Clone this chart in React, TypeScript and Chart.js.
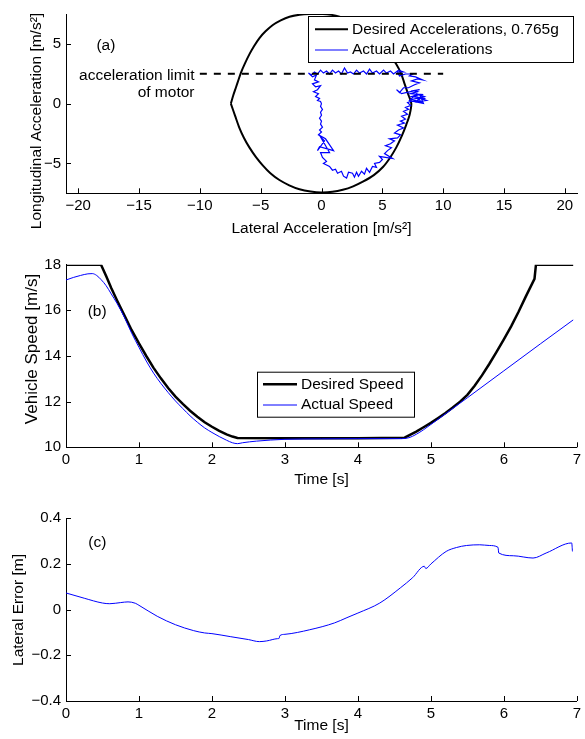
import { useEffect, useRef } from 'react';
import { Chart, registerables } from 'chart.js';

Chart.register(...registerables);

const FONT = "'Liberation Sans', Arial, Helvetica, sans-serif";
const TICK_SIZE = 15;
const LABEL_SIZE = 15.5;
const BLUE = '#0000ff';

// ---------- Panel (a): friction circle ----------
const desiredAccLat = [-7.45, -7.25, -7.02, -6.82, -6.61, -6.3, -5.93, -5.55, -5.1, -4.6, -4.0, -3.35, -2.63, -1.8, -1.0, 0.1, 0.8, 1.48, 2.2, 3.3, 4.4, 5.4, 6.15, 6.55, 6.83, 7.1, 7.38, 7.25, 6.97, 6.6, 6.15, 5.65, 5.05, 4.3, 3.4, 2.6, 1.75, 0.9, 0, -0.9, -1.81, -2.65, -3.46, -4.2, -4.83, -5.4, -5.93, -6.38, -6.75, -7.1, -7.45];
const desiredAccLon = [0, 0.7, 1.39, 2.0, 2.62, 3.35, 4.12, 4.8, 5.49, 6.05, 6.58, 6.97, 7.27, 7.44, 7.5, 7.5, 7.43, 7.27, 7.0, 6.4, 5.5, 4.4, 3.3, 2.5, 1.66, 0.85, 0.02, -0.9, -1.75, -2.7, -3.66, -4.5, -5.3, -5.98, -6.53, -6.92, -7.21, -7.38, -7.43, -7.35, -7.16, -6.83, -6.39, -5.82, -5.16, -4.45, -3.66, -2.85, -2.02, -1.02, 0];
const actualAccLat = [0, -0.08, 0.08, -0.08, 0, -0.16, 0, -0.08, 0.08, -0.16,
  0, -0.25, 0.33, 0.99, -0.16, -0.33, 0.25, -0.08, 0.66, -0.08,
  0.08, 0.41, 0.16, 0.66, 0.90, 1.15, 1.32, 1.64, 1.81, 2.06,
  2.22, 2.55, 2.71, 2.88, 3.04, 3.29, 3.53, 3.70, 3.95, 4.19,
  4.52, 4.36, 4.77, 5.01, 4.77, 5.26, 5.84, 5.18, 5.43, 5.75,
  5.26, 5.67, 6.00, 5.59, 6.25, 6.49, 6.00, 6.33, 6.74, 6.25,
  6.82, 6.49, 6.90, 6.58, 7.07, 6.74, 7.15, 6.90, 7.32, 7.07,
  7.65, 8.22, 7.89, 8.55, 7.40, 8.06, 8.38, 7.23, 7.81, 8.47,
  7.48, 7.97, 8.63, 7.56, 8.14, 7.73, 8.30, 7.32, 7.89, 7.56,
  8.06, 6.58, 6.17, 6.41, 6.74, 7.15, 7.65, 8.06, 7.40, 7.89,
  8.30, 7.73, 7.23, 7.48, 6.90, 6.41, 6.25, 6.74, 6.33, 5.92,
  5.67, 5.34, 5.10, 4.77, 4.52, 4.19, 3.95, 3.70, 3.45, 3.12,
  2.88, 2.63, 2.38, 2.14, 1.89, 1.64, 1.40, 1.15, 0.90, 0.66,
  0.41, 0.16, -0.08, -0.33, -0.58, -0.82, -1.07, -0.74, -0.41, -0.58,
  -0.25, -0.74, -0.49, -0.08, -0.33, -0.66, -0.25, -0.49, -0.16, -0.33,
  -0.08, 0];
const actualAccLon = [0, -0.23, -0.48, -0.72, -0.97, -1.22, -1.46, -1.71, -1.96, -2.20,
  -2.37, -2.61, -2.94, -3.93, -3.60, -3.93, -3.11, -2.78, -4.09, -4.09,
  -4.50, -4.83, -5.00, -5.25, -5.57, -5.49, -5.82, -5.66, -6.07, -6.23,
  -5.74, -5.82, -6.15, -5.74, -6.07, -5.66, -5.90, -5.41, -5.74, -5.25,
  -5.33, -5.00, -4.92, -4.67, -4.42, -4.50, -4.59, -4.18, -3.93, -3.68,
  -3.52, -3.35, -3.11, -2.94, -2.86, -2.61, -2.45, -2.20, -2.04, -1.79,
  -1.63, -1.46, -1.30, -1.05, -0.89, -0.64, -0.48, -0.31, -0.15, 0.10,
  0.26, 0.10, 0.51, 0.43, 0.59, 0.76, 0.02, 0.26, 0.84, 0.59,
  0.35, 0.18, 0.26, 0.67, 0.43, 0.10, 0.76, 0.84, 1.00, 1.09,
  1.17, 0.84, 1.17, 0.92, 1.33, 1.33, 1.58, 1.74, 1.91, 2.07,
  1.99, 2.24, 2.32, 2.48, 2.48, 2.32, 2.65, 2.65, 2.81, 2.48,
  2.73, 2.56, 2.81, 2.48, 2.73, 2.56, 2.89, 2.48, 2.73, 2.56,
  2.81, 2.48, 2.65, 2.56, 2.98, 2.48, 2.73, 2.56, 2.81, 2.48,
  2.73, 2.56, 2.81, 2.48, 2.65, 2.40, 2.56, 2.24, 2.40, 1.99,
  1.82, 1.66, 1.41, 1.50, 1.17, 1.00, 0.84, 0.59, 0.43, 0.26,
  0.18, 0];
const motorLimitLat = [-10, 10];
const motorLimitLon = [2.5, 2.5];
const latAccTicks = [-20, -15, -10, -5, 0, 5, 10, 15, 20];
const lonAccTicks = [-5, 0, 5];

// ---------- Panel (b): vehicle speed ----------
const desiredSpeedT = [0, 0.48, 0.55, 0.62, 0.7, 0.8, 0.9, 1.0, 1.1, 1.2, 1.3, 1.4, 1.5, 1.6, 1.7, 1.8, 1.9, 2.0, 2.1, 2.2, 2.28, 2.35, 3.0, 4.0, 4.64, 4.7, 4.8, 4.9, 5.0, 5.1, 5.2, 5.3, 5.4, 5.5, 5.6, 5.7, 5.8, 5.9, 6.0, 6.1, 6.2, 6.3, 6.42, 6.44, 6.95];
const desiredSpeed = [18, 18, 17.5, 16.98, 16.43, 15.78, 15.13, 14.55, 14.0, 13.48, 13.02, 12.6, 12.22, 11.9, 11.6, 11.34, 11.1, 10.9, 10.72, 10.57, 10.47, 10.41, 10.4, 10.4, 10.42, 10.52, 10.69, 10.88, 11.07, 11.28, 11.5, 11.74, 12.0, 12.3, 12.7, 13.15, 13.65, 14.18, 14.73, 15.3, 15.93, 16.6, 17.38, 18, 18];
const actualSpeedT = [0, 0.1, 0.2, 0.3, 0.36, 0.42, 0.48, 0.55, 0.62, 0.7, 0.8, 0.9, 1.0, 1.1, 1.2, 1.3, 1.4, 1.5, 1.6, 1.7, 1.8, 1.9, 2.0, 2.1, 2.2, 2.28, 2.35, 2.42, 2.61, 3.0, 3.5, 4.0, 4.6, 4.7, 4.8, 4.9, 5.0, 5.5, 6.0, 6.5, 6.95];
const actualSpeed = [17.33, 17.44, 17.53, 17.6, 17.61, 17.53, 17.35, 17.08, 16.72, 16.3, 15.7, 15.0, 14.38, 13.78, 13.25, 12.8, 12.4, 12.03, 11.7, 11.38, 11.1, 10.85, 10.65, 10.47, 10.31, 10.2, 10.16, 10.2, 10.27, 10.35, 10.37, 10.38, 10.38, 10.42, 10.57, 10.77, 11.0, 12.17, 13.35, 14.53, 15.58];
const timeTicks = [0, 1, 2, 3, 4, 5, 6, 7];
const speedTicks = [10, 12, 14, 16, 18];

// ---------- Panel (c): lateral error ----------
const errorT = [0, 0.25, 0.5, 0.6, 0.75, 0.85, 0.95, 1.0, 1.25, 1.5, 1.75, 1.9, 2.0, 2.25, 2.5, 2.65, 2.75, 2.9, 2.92, 2.93, 3.0, 3.34, 3.68, 3.85, 4.0, 4.3, 4.58, 4.75, 4.91, 4.93, 5.0, 5.21, 5.35, 5.49, 5.67, 5.8, 5.92, 5.93, 6.13, 6.4, 6.58, 6.93, 6.94];
const errorVal = [0.073, 0.05, 0.029, 0.026, 0.031, 0.034, 0.028, 0.019, -0.029, -0.066, -0.092, -0.102, -0.105, -0.118, -0.131, -0.14, -0.137, -0.127, -0.126, -0.114, -0.108, -0.088, -0.058, -0.035, -0.015, 0.029, 0.095, 0.14, 0.19, 0.18, 0.2, 0.255, 0.272, 0.281, 0.284, 0.281, 0.273, 0.248, 0.236, 0.226, 0.248, 0.292, 0.255];
const errorTicks = [-0.4, -0.2, 0, 0.2, 0.4];

const zip = (xs: number[], ys: number[]) => xs.map((x, i) => ({ x, y: ys[i] }));
const fmt = (v: number) => (v < 0 ? '\u2212' + String(-v) : String(v));

type Note = { text: string; x: number; y: number; align: CanvasTextAlign };
type LegendCfg = { x: number; y: number; w: number; h: number; rows: number[]; lineX1: number; lineX2: number; textX: number; datasets: number[] };
type YTitle = { text: string; cx: number; cy: number; size: number };

function makePlugin(notes: Note[], legend: LegendCfg | null, yTitle: YTitle) {
  return {
    id: 'decor',
    afterDatasetsDraw(chart: any) {
      const { ctx, chartArea, scales } = chart;
      const xs = scales.x, ys = scales.y;
      ctx.save();
      ctx.strokeStyle = '#000';
      ctx.lineWidth = 1;
      // inward tick marks
      xs.ticks.forEach((t: any) => {
        const px = Math.round(xs.getPixelForValue(t.value)) + 0.5;
        ctx.beginPath();
        ctx.moveTo(px, chartArea.bottom);
        ctx.lineTo(px, chartArea.bottom - 5);
        ctx.stroke();
      });
      ys.ticks.forEach((t: any) => {
        const py = Math.round(ys.getPixelForValue(t.value)) + 0.5;
        ctx.beginPath();
        ctx.moveTo(chartArea.left, py);
        ctx.lineTo(chartArea.left + 5, py);
        ctx.stroke();
      });
      // y axis title
      ctx.fillStyle = '#000';
      ctx.save();
      ctx.translate(yTitle.cx, yTitle.cy);
      ctx.rotate(-Math.PI / 2);
      ctx.font = `${yTitle.size}px ${FONT}`;
      ctx.textAlign = 'center';
      ctx.textBaseline = 'middle';
      ctx.fillText(yTitle.text, 0, 0);
      ctx.restore();
      // annotations
      ctx.font = `${LABEL_SIZE}px ${FONT}`;
      ctx.textBaseline = 'middle';
      notes.forEach((n) => {
        ctx.textAlign = n.align;
        ctx.fillText(n.text, xs.getPixelForValue(n.x), ys.getPixelForValue(n.y));
      });
      // legend box
      if (legend) {
        ctx.fillStyle = '#fff';
        ctx.fillRect(legend.x, legend.y, legend.w, legend.h);
        ctx.strokeStyle = '#000';
        ctx.lineWidth = 1;
        ctx.strokeRect(legend.x + 0.5, legend.y + 0.5, legend.w, legend.h);
        ctx.textAlign = 'left';
        legend.datasets.forEach((di, i) => {
          const ds = chart.data.datasets[di];
          const yy = legend.rows[i];
          ctx.strokeStyle = ds.borderColor;
          ctx.lineWidth = ds.borderWidth;
          ctx.setLineDash([]);
          ctx.beginPath();
          ctx.moveTo(legend.lineX1, yy);
          ctx.lineTo(legend.lineX2, yy);
          ctx.stroke();
          ctx.fillStyle = '#000';
          ctx.fillText(ds.label, legend.textX, yy);
        });
      }
      ctx.restore();
    },
  };
}

function axis(opts: {
  min: number; max: number; ticks: number[]; title: string; isX: boolean; size: number; titlePad: number;
}) {
  return {
    type: 'linear',
    min: opts.min,
    max: opts.max,
    afterBuildTicks: (s: any) => {
      s.ticks = opts.ticks.map((v) => ({ value: v }));
    },
    afterFit: (s: any) => {
      if (opts.isX) s.height = opts.size;
      else s.width = opts.size;
    },
    grid: { drawOnChartArea: false, drawTicks: false },
    border: { color: '#000', width: 1 },
    ticks: {
      color: '#000',
      font: { family: FONT, size: TICK_SIZE },
      padding: opts.isX ? 4 : 5,
      autoSkip: false,
      maxRotation: 0,
      callback: (v: any) => fmt(Number(v)),
    },
    title: {
      display: opts.isX,
      text: opts.title,
      color: '#000',
      font: { family: FONT, size: LABEL_SIZE },
      padding: { top: 0, bottom: opts.titlePad },
    },
  };
}

const baseOptions = (top: number) => ({
  responsive: false,
  animation: false,
  events: [],
  layout: { padding: { top, right: 8, left: 0, bottom: 0 } },
  plugins: { legend: { display: false }, tooltip: { enabled: false } },
});

function buildA() {
  return {
    type: 'scatter',
    data: {
      datasets: [
        { label: 'motor limit', data: zip(motorLimitLat, motorLimitLon), borderColor: '#000', borderWidth: 2, borderDash: [7, 7], showLine: true, pointRadius: 0, order: 0 },
        { label: 'Actual Accelerations', data: zip(actualAccLat, actualAccLon), borderColor: BLUE, borderWidth: 1.2, showLine: true, pointRadius: 0, order: 1 },
        { label: 'Desired Accelerations, 0.765g', data: zip(desiredAccLat, desiredAccLon), borderColor: '#000', borderWidth: 2, showLine: true, tension: 0.3, pointRadius: 0, order: 2 },
      ],
    },
    options: {
      ...baseOptions(10.8),
      scales: {
        x: axis({ min: -21, max: 21, ticks: latAccTicks, title: 'Lateral Acceleration [m/s\u00b2]', isX: true, size: 46.7, titlePad: 2.2 }),
        y: axis({ min: -7.5, max: 7.5, ticks: lonAccTicks, title: '', isX: false, size: 66, titlePad: 0 }),
      },
    },
    plugins: [makePlugin(
      [
        { text: '(a)', x: -18.5, y: 4.84, align: 'left' },
        { text: 'acceleration limit', x: -10.44, y: 2.37, align: 'right' },
        { text: 'of motor', x: -10.44, y: 0.94, align: 'right' },
      ],
      { x: 308, y: 16, w: 265, h: 46, rows: [29.3, 50], lineX1: 315, lineX2: 348, textX: 352, datasets: [2, 1] },
      { text: 'Longitudinal Acceleration [m/s\u00b2]', cx: 36.7, cy: 121, size: LABEL_SIZE },
    )],
  };
}

function buildB() {
  return {
    type: 'scatter',
    data: {
      datasets: [
        { label: 'Actual Speed', data: zip(actualSpeedT, actualSpeed), borderColor: BLUE, borderWidth: 1, showLine: true, cubicInterpolationMode: 'monotone', tension: 0.4, pointRadius: 0, order: 0 },
        { label: 'Desired Speed', data: zip(desiredSpeedT, desiredSpeed), borderColor: '#000', borderWidth: 2.5, showLine: true, pointRadius: 0, order: 1 },
      ],
    },
    options: {
      ...baseOptions(24.7),
      scales: {
        x: axis({ min: 0, max: 7, ticks: timeTicks, title: 'Time [s]', isX: true, size: 42.7, titlePad: 1.2 }),
        y: axis({ min: 10, max: 18, ticks: speedTicks, title: '', isX: false, size: 66, titlePad: 0 }),
      },
    },
    plugins: [makePlugin(
      [{ text: '(b)', x: 0.297, y: 15.94, align: 'left' }],
      { x: 257, y: 131.7, w: 157, h: 45, rows: [144.3, 165], lineX1: 263, lineX2: 297, textX: 301, datasets: [1, 0] },
      { text: 'Vehicle Speed [m/s]', cx: 32.5, cy: 109, size: 17 },
    )],
  };
}

function buildC() {
  return {
    type: 'scatter',
    data: {
      datasets: [
        { label: 'Lateral Error', data: zip(errorT, errorVal), borderColor: BLUE, borderWidth: 1, showLine: true, cubicInterpolationMode: 'monotone', tension: 0.4, pointRadius: 0 },
      ],
    },
    options: {
      ...baseOptions(28.3),
      scales: {
        x: axis({ min: 0, max: 7, ticks: timeTicks, title: 'Time [s]', isX: true, size: 38, titlePad: 4.2 }),
        y: axis({ min: -0.4, max: 0.4, ticks: errorTicks, title: '', isX: false, size: 66, titlePad: 0 }),
      },
    },
    plugins: [makePlugin(
      [{ text: '(c)', x: 0.305, y: 0.292, align: 'left' }],
      null,
      { text: 'Lateral Error [m]', cx: 18.8, cy: 120, size: LABEL_SIZE },
    )],
  };
}

function Panel({ top, height, build }: { top: number; height: number; build: () => any }) {
  const ref = useRef<HTMLCanvasElement>(null);
  useEffect(() => {
    const chart = new Chart(ref.current as HTMLCanvasElement, build());
    return () => chart.destroy();
  }, []);
  return (
    <canvas
      ref={ref}
      width={585}
      height={height}
      style={{ position: 'absolute', left: 0, top, width: 585, height }}
    />
  );
}

export default function App() {
  return (
    <div style={{ position: 'absolute', left: 0, top: 0, width: 585, height: 739, background: '#fff', overflow: 'hidden' }}>
      <Panel top={0} height={240} build={buildA} />
      <Panel top={240} height={250} build={buildB} />
      <Panel top={490} height={249} build={buildC} />
    </div>
  );
}
